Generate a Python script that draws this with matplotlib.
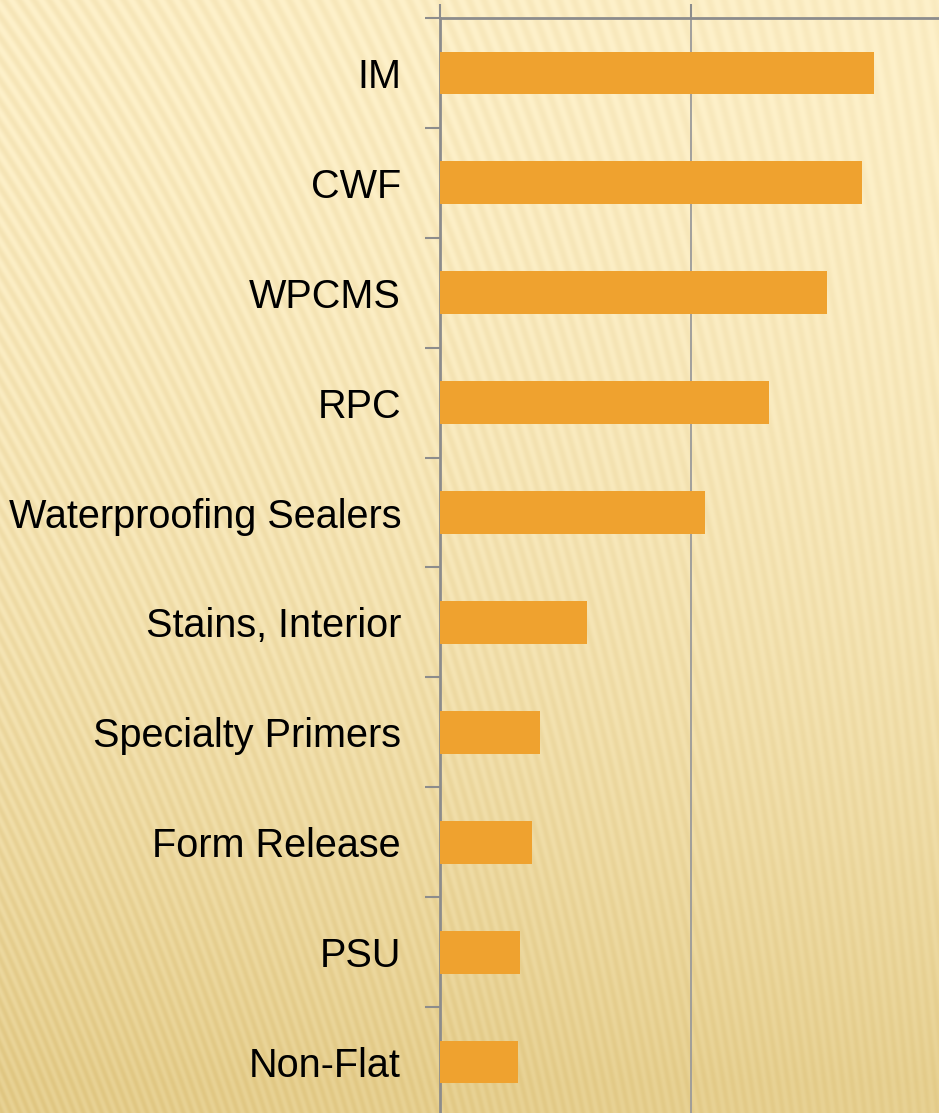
"""
Horizontal bar chart of product categories on a striped cream background.
"""
import numpy as np
import matplotlib
matplotlib.use('Agg')
from matplotlib import pyplot as plt

categories = ["IM", "CWF", "WPCMS", "RPC", "Waterproofing Sealers",
              "Stains, Interior", "Specialty Primers", "Form Release",
              "PSU", "Non-Flat"]
values = [1.73, 1.68, 1.54, 1.31, 1.055, 0.585, 0.40, 0.365, 0.32, 0.31]
grid_values = [0, 1, 2]

BAR_COLOR = "#EFA22F"
AXIS_COLOR = "#8C8C8C"


def make_background(width, height):
    """Builds the cream gradient with soft diagonal stripes."""
    yy, xx = np.mgrid[0:height, 0:width].astype(float)
    top = np.array([254, 241, 202]) / 255
    bottom = np.array([232, 210, 148]) / 255
    t = np.clip((yy / height) ** 1.7 * 1.05, 0, 1)[..., None]
    base = top * (1 - t) + bottom * t
    slope = 0.7 - 0.55 * (xx / width)
    phase = (xx - yy * slope) / 15.0
    stripe = 0.5 + 0.5 * np.sin(2 * np.pi * phase)
    fade = 1 - 0.45 * (xx / width)
    shade = (stripe * 0.06 * fade)[..., None]
    tint = np.array([0.0, 0.5, 1.4])
    img = base - shade * (1 + tint) / 2
    return np.clip(img, 0, 1)


def plot_chart():
    fig_w, fig_h = 939, 1113
    fig = plt.figure(figsize=(fig_w / 100, fig_h / 100), dpi=100)

    bg = fig.add_axes([0, 0, 1, 1], zorder=0)
    bg.imshow(make_background(fig_w, fig_h), aspect='auto', interpolation='bilinear')
    bg.axis('off')

    left, right = 440 / fig_w, 942 / fig_w
    top = 1 - 18 / fig_h
    height = 10 * 109.9 / fig_h
    ax = fig.add_axes([left, top - height, right - left, height], zorder=1)
    ax.patch.set_alpha(0)

    pos = np.arange(len(categories))
    ax.barh(pos, values, height=0.39, color=BAR_COLOR, zorder=3)
    ax.set_ylim(len(categories) - 0.5, -0.5)
    ax.set_xlim(grid_values[0], grid_values[-1])

    ax.set_yticks(pos)
    ax.set_yticklabels(categories, fontsize=28.5, family='Liberation Sans')
    ax.tick_params(axis='y', which='major', length=0, pad=28)
    ax.set_yticks(np.arange(len(categories) + 1) - 0.5, minor=True)
    ax.tick_params(axis='y', which='minor', length=11, width=1.5,
                   color=AXIS_COLOR, left=True)

    ax.xaxis.tick_top()
    ax.set_xticks(grid_values)
    ax.set_xticklabels([])
    ax.tick_params(axis='x', length=10, width=1.5, color=AXIS_COLOR)
    ax.grid(axis='x', color="#9A9A9A", linewidth=1.3, zorder=1)

    for side in ['bottom', 'right']:
        ax.spines[side].set_visible(False)
    for side in ['left', 'top']:
        ax.spines[side].set_color(AXIS_COLOR)
        ax.spines[side].set_linewidth(2)

    fig.savefig("out.png", dpi=100)


if __name__ == "__main__":
    plot_chart()
